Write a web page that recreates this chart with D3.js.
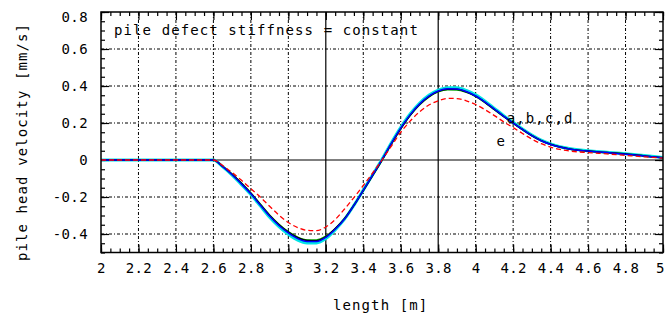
<!DOCTYPE html>
<html><head><meta charset="utf-8">
<script src="https://cdn.jsdelivr.net/npm/d3@7"></script>
<style>body{margin:0;background:#fff}svg{display:block}</style>
</head><body>
<svg id="c" width="666" height="320"></svg>
<script>
// ---- data ----
const lengthM = [2.0,2.2,2.4,2.6,2.65,2.7,2.75,2.8,2.85,2.9,2.95,3.0,3.05,3.1,3.15,3.2,3.25,3.3,3.35,3.4,3.45,3.5,3.55,3.6,3.65,3.7,3.75,3.8,3.85,3.9,3.95,4.0,4.05,4.1,4.15,4.2,4.25,4.3,4.35,4.4,4.45,4.5,4.6,4.7,4.8,4.9,5.0];
const curveA = [0,0,0,0,-0.035,-0.078,-0.127,-0.18,-0.24,-0.30,-0.35,-0.39,-0.42,-0.435,-0.436,-0.415,-0.372,-0.318,-0.245,-0.165,-0.083,0.0,0.088,0.17,0.242,0.3,0.343,0.371,0.383,0.382,0.368,0.345,0.312,0.274,0.236,0.2,0.165,0.132,0.105,0.085,0.07,0.06,0.048,0.04,0.032,0.022,0.012];
const curveB = [0,0,0,0,-0.036,-0.08,-0.13,-0.183,-0.243,-0.303,-0.354,-0.394,-0.425,-0.44,-0.44,-0.418,-0.374,-0.319,-0.245,-0.164,-0.082,0.002,0.09,0.172,0.244,0.302,0.345,0.373,0.385,0.384,0.37,0.346,0.313,0.275,0.236,0.2,0.165,0.132,0.104,0.084,0.07,0.06,0.048,0.04,0.031,0.022,0.012];
const curveC = [0,0,0,0,-0.037,-0.082,-0.133,-0.187,-0.248,-0.309,-0.36,-0.401,-0.433,-0.448,-0.448,-0.425,-0.378,-0.32,-0.245,-0.163,-0.08,0.004,0.093,0.176,0.249,0.307,0.35,0.378,0.391,0.39,0.376,0.352,0.318,0.279,0.24,0.204,0.168,0.135,0.107,0.087,0.072,0.062,0.05,0.042,0.034,0.024,0.014];
const curveD = [0,0,0,0,-0.034,-0.077,-0.125,-0.178,-0.238,-0.297,-0.347,-0.387,-0.417,-0.432,-0.432,-0.412,-0.37,-0.316,-0.244,-0.165,-0.084,-0.002,0.086,0.168,0.24,0.298,0.34,0.368,0.38,0.379,0.366,0.343,0.31,0.272,0.234,0.199,0.164,0.131,0.104,0.084,0.07,0.06,0.048,0.04,0.032,0.022,0.012];
const curveE = [0,0,0,0,-0.03,-0.068,-0.11,-0.155,-0.2,-0.25,-0.298,-0.338,-0.365,-0.38,-0.382,-0.362,-0.322,-0.265,-0.203,-0.138,-0.07,0.0,0.075,0.15,0.21,0.26,0.297,0.32,0.333,0.332,0.32,0.3,0.272,0.24,0.206,0.175,0.143,0.113,0.088,0.07,0.057,0.049,0.04,0.033,0.025,0.017,0.01];
const seriesNames = ["c","d","a","b","e"];
const seriesValues = [curveC, curveD, curveA, curveB, curveE];
const seriesColors = ["#00e5e5","#00a000","#000000","#0000ff","#ff0000"];
const xTickValues = [2,2.2,2.4,2.6,2.8,3,3.2,3.4,3.6,3.8,4,4.2,4.4,4.6,4.8,5];
const xTickLabels = ["2","2.2","2.4","2.6","2.8","3","3.2","3.4","3.6","3.8","4","4.2","4.4","4.6","4.8","5"];
const yTickValues = [-0.4,-0.2,0,0.2,0.4,0.6,0.8];
const yTickLabels = ["-0.4","-0.2","0","0.2","0.4","0.6","0.8"];
const refLinesX = [3.2,3.8];
const title = "pile defect stiffness = constant";
const xTitle = "length [m]";
const yTitle = "pile head velocity [mm/s]";

// ---- drawing ----
const svg = d3.select("#c");
const L=101, R=663, T=12, B=252.5;
const x = d3.scaleLinear().domain([2,5]).range([L,R]);
const y = d3.scaleLinear().domain([-0.5,0.8]).range([B,T]);
const font = "'DejaVu Sans Mono', monospace";

// grid
const g = svg.append("g");
g.selectAll(".vg").data(xTickValues.filter(v=>v>2&&v<5&&!refLinesX.includes(v))).join("line")
  .attr("x1",d=>x(d)).attr("x2",d=>x(d)).attr("y1",T).attr("y2",B)
  .attr("stroke","#000").attr("stroke-width",1).attr("stroke-dasharray","3,2,1,2");
g.selectAll(".hg").data(yTickValues.filter(v=>v!==0&&v<0.8)).join("line")
  .attr("x1",L).attr("x2",R).attr("y1",d=>y(d)).attr("y2",d=>y(d))
  .attr("stroke","#000").attr("stroke-width",1).attr("stroke-dasharray","3,2,1,2");
g.append("line").attr("x1",L).attr("x2",R).attr("y1",y(0)).attr("y2",y(0)).attr("stroke","#000").attr("stroke-width",1.2);
g.selectAll(".rl").data(refLinesX).join("line")
  .attr("x1",d=>x(d)).attr("x2",d=>x(d)).attr("y1",T).attr("y2",B)
  .attr("stroke","#000").attr("stroke-width",1.2);

// axes ticks (inward)
const minorX = d3.range(2,5.0001,0.05).map(v=>+v.toFixed(2));
const minorY = d3.range(-0.5,0.8001,0.05).map(v=>+v.toFixed(2));
function styleAxis(sel){ sel.select(".domain").remove(); sel.selectAll("line").attr("stroke","#000").attr("stroke-width",1.2); }
svg.append("g").attr("transform",`translate(0,${B})`).call(d3.axisBottom(x).tickValues(minorX).tickSize(-4).tickFormat("")).call(styleAxis);
svg.append("g").attr("transform",`translate(0,${T})`).call(d3.axisTop(x).tickValues(minorX).tickSize(-4).tickFormat("")).call(styleAxis);
svg.append("g").attr("transform",`translate(${L},0)`).call(d3.axisLeft(y).tickValues(minorY).tickSize(-4).tickFormat("")).call(styleAxis);
svg.append("g").attr("transform",`translate(${R},0)`).call(d3.axisRight(y).tickValues(minorY).tickSize(-4).tickFormat("")).call(styleAxis);

const xb = svg.append("g").attr("transform",`translate(0,${B})`)
  .call(d3.axisBottom(x).tickValues(xTickValues).tickSize(-8).tickPadding(11).tickFormat((d,i)=>xTickLabels[i])).call(styleAxis);
svg.append("g").attr("transform",`translate(0,${T})`).call(d3.axisTop(x).tickValues(xTickValues).tickSize(-8).tickFormat("")).call(styleAxis);
const yl = svg.append("g").attr("transform",`translate(${L},0)`)
  .call(d3.axisLeft(y).tickValues(yTickValues).tickSize(-8).tickPadding(13).tickFormat((d,i)=>yTickLabels[i])).call(styleAxis);
svg.append("g").attr("transform",`translate(${R},0)`).call(d3.axisRight(y).tickValues(yTickValues).tickSize(-8).tickFormat("")).call(styleAxis);
[xb,yl].forEach(a=>a.selectAll("text").attr("font-family",font).attr("font-size",14).attr("fill","#000").attr("letter-spacing",0.4));
yl.selectAll("text").filter(d=>d===0.8).attr("dy","0.65em");
xb.selectAll("text").filter(d=>d===5).attr("x",-3);

// curves
const line = d3.line().x((d,i)=>x(lengthM[i])).y(d=>y(d)).curve(d3.curveMonotoneX);
svg.append("g").selectAll("path").data(seriesValues).join("path")
  .attr("d",d=>line(d)).attr("fill","none")
  .attr("stroke",(d,i)=>seriesColors[i])
  .attr("stroke-width",(d,i)=>seriesNames[i]==="c"?3:(seriesNames[i]==="e"?1.3:1.5))
  .attr("stroke-dasharray",(d,i)=>seriesNames[i]==="e"?"5,3":null);

// frame
svg.append("rect").attr("x",L).attr("y",T).attr("width",R-L).attr("height",B-T)
  .attr("fill","none").attr("stroke","#000").attr("stroke-width",1.5);

// texts
const txt = (s,xx,yy)=>svg.append("text").text(s).attr("x",xx).attr("y",yy)
  .attr("font-family",font).attr("font-size",14).attr("letter-spacing",1.1).attr("fill","#000");
txt(title,114,35);
txt("a,b,c,d",x(4.15)+3,123);
txt("e",x(4.1)+2,146);
txt(xTitle,333,310);
svg.append("text").text(yTitle).attr("transform","translate(27,142) rotate(-90)")
  .attr("text-anchor","middle").attr("font-family",font).attr("font-size",14).attr("letter-spacing",1.1).attr("fill","#000");
</script>
</body></html>
